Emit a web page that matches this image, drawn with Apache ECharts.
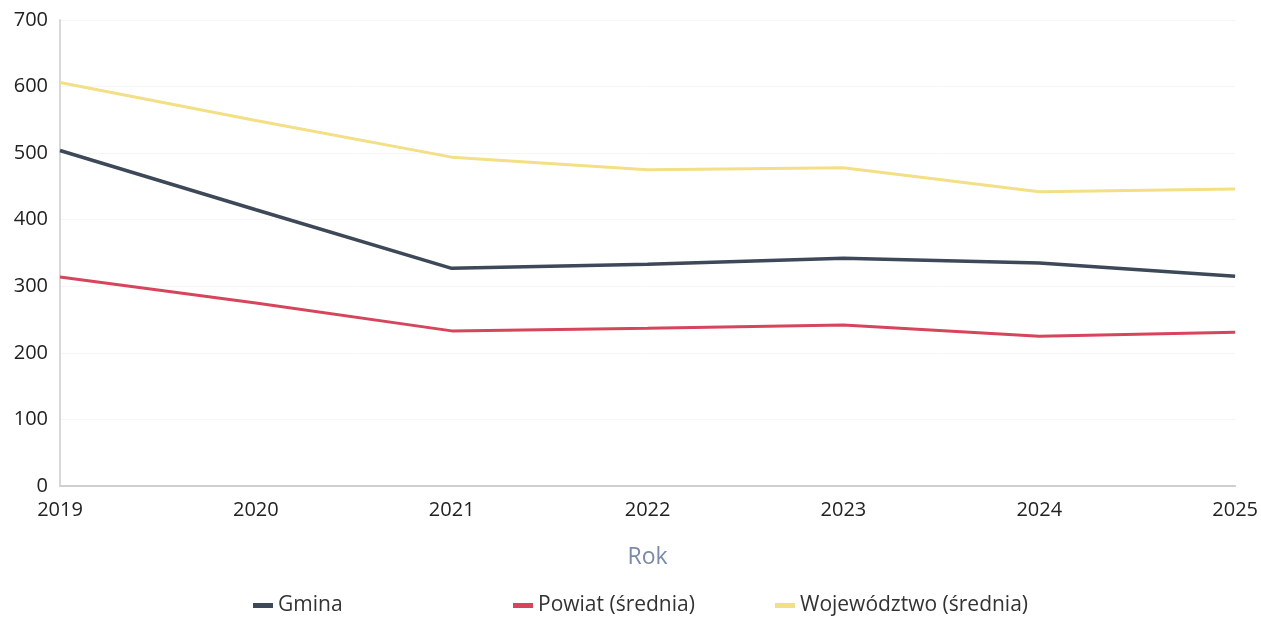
<!DOCTYPE html>
<html>
<head>
<meta charset="utf-8">
<script src="https://cdn.jsdelivr.net/npm/echarts@6/dist/echarts.min.js"></script>
<style>html,body{margin:0;padding:0;background:#fff}#c{width:1261px;height:618px}</style>
</head>
<body>
<div id="c"></div>
<script>
const years = ['2019','2020','2021','2022','2023','2024','2025'];
const gmina = [504, 415, 327, 333, 342, 335, 315];
const powiat = [314, 275, 233, 237, 242, 225, 231];
const wojewodztwo = [606, 549, 494, 475, 478, 442, 446];
const yTicks = [0, 100, 200, 300, 400, 500, 600, 700];

const FONT = '"Open Sans", "Noto Sans", sans-serif';
const chart = echarts.init(document.getElementById('c'));
const legendBase = {
  top: 595, itemWidth: 20, itemHeight: 5, icon: 'rect', itemGap: 4, padding: 0,
  textStyle: {fontFamily: FONT, fontSize: 21, color: '#333'}
};
chart.setOption({
  backgroundColor: '#fff',
  animation: false,
  grid: {left: 60, right: 23, top: 20, bottom: 132},
  legend: [
    Object.assign({}, legendBase, {data: ['Gmina'], left: 253}),
    Object.assign({}, legendBase, {data: ['Powiat (średnia)'], left: 513}),
    Object.assign({}, legendBase, {data: ['Województwo (średnia)'], left: 775})
  ],
  xAxis: {
    type: 'category', data: years, boundaryGap: false,
    name: 'Rok', nameLocation: 'middle', nameGap: 60,
    nameTextStyle: {fontFamily: FONT, fontSize: 23, color: '#7a8ba8'},
    axisLine: {lineStyle: {color: '#cfcfcf', width: 2}},
    axisTick: {show: false},
    axisLabel: {fontFamily: FONT, fontSize: 20, color: '#222', margin: 14}
  },
  yAxis: {
    type: 'value', min: yTicks[0], max: yTicks[yTicks.length - 1], interval: 100,
    axisLine: {show: true, lineStyle: {color: '#d8d8d8', width: 2}},
    axisTick: {show: false},
    splitLine: {show: true, lineStyle: {color: '#f6f6f6'}},
    axisLabel: {fontFamily: FONT, fontSize: 20, color: '#222', margin: 12}
  },
  series: [
    {name: 'Gmina', type: 'line', data: gmina, showSymbol: false, symbol: 'none',
     lineStyle: {color: '#3d4858', width: 3.5}, itemStyle: {color: '#3d4858'}},
    {name: 'Powiat (średnia)', type: 'line', data: powiat, showSymbol: false, symbol: 'none',
     lineStyle: {color: '#d6455c', width: 3}, itemStyle: {color: '#d6455c'}},
    {name: 'Województwo (średnia)', type: 'line', data: wojewodztwo, showSymbol: false, symbol: 'none',
     lineStyle: {color: '#f3df86', width: 3}, itemStyle: {color: '#f3df86'}}
  ]
});
</script>
</body>
</html>
